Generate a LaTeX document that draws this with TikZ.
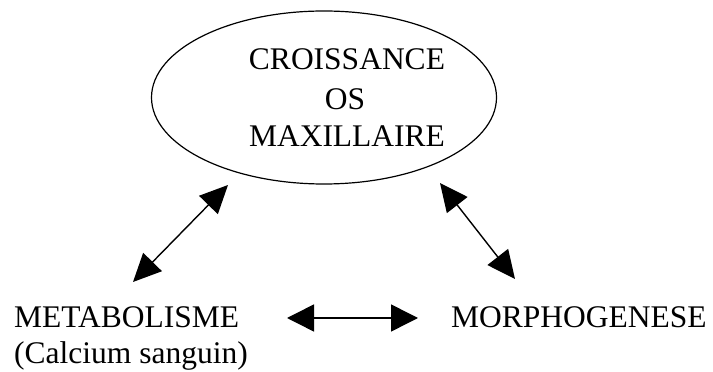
\documentclass[tikz,border=0pt]{standalone}
\usepackage{fontspec}
\setmainfont{Liberation Serif}
\usetikzlibrary{arrows.meta,shapes.geometric}
\begin{document}
\begin{tikzpicture}[x=1pt,y=1pt,
  lbl/.style={font=\fontsize{31.5}{37}\selectfont, inner sep=0pt, anchor=base},
  dbl/.style={{Triangle[length=27pt,width=27pt]}-{Triangle[length=27pt,width=27pt]}, line width=1.5pt},
  dbldiag/.style={{Triangle[length=28pt,width=26pt]}-{Triangle[length=28pt,width=26pt]}, line width=1.4pt}]
\useasboundingbox (0,0) rectangle (713,372);
% central ellipse and its three lines of text
\node[draw, ellipse, line width=1.2pt, minimum width=345pt, minimum height=173pt, inner sep=0pt] (ell) at (324,274.5) {};
\node[lbl] (t1) at (347,302) {CROISSANCE};
\node[lbl] (t2) at (345,262) {OS};
\node[lbl] (t3) at (347,225) {MAXILLAIRE};
% lower labels
\node[lbl, anchor=base west] (meta) at (14,44) {METABOLISME};
\node[lbl, anchor=base west] (calc) at (14,8) {(Calcium sanguin)};
\node[lbl, anchor=base west] (morph) at (451,44) {MORPHOGENESE};
% arrow end points
\coordinate (la) at (133,90);
\coordinate (lb) at (228,187);
\coordinate (ra) at (440,189);
\coordinate (rb) at (515,93);
\coordinate (ha) at (287,54);
\coordinate (hb) at (418,54);
% double-headed connectors
\draw[dbldiag] (la) -- (lb);
\draw[dbldiag] (ra) -- (rb);
\draw[dbl] (ha) -- (hb);
\end{tikzpicture}
\end{document}
